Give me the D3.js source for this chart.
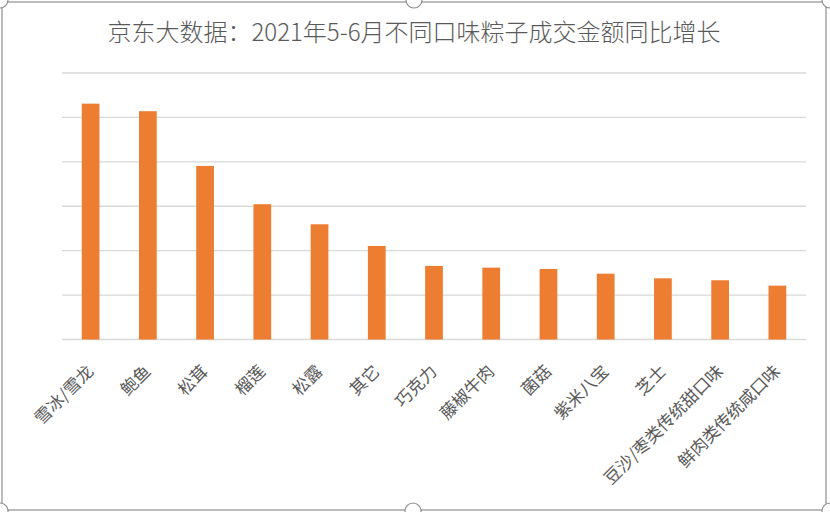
<!DOCTYPE html>
<html>
<head>
<meta charset="utf-8">
<script src="https://cdn.jsdelivr.net/npm/d3@7"></script>
<style>
  html, body { margin: 0; padding: 0; background: #fff; }
  svg { display: block; }
  text { font-family: "Noto Sans CJK SC", "Noto Sans", sans-serif; fill: #595959; }
</style>
</head>
<body>
<script>
;(function() {
  'use strict';

  var title = '京东大数据：2021年5-6月不同口味粽子成交金额同比增长';

  var categories = ['雪冰/雪龙', '鲍鱼', '松茸', '榴莲', '松露', '其它', '巧克力',
    '藤椒牛肉', '菌菇', '紫米八宝', '芝士', '豆沙/枣类传统甜口味', '鲜肉类传统咸口味'];

  // growth values (no y labels in the source)
  var values = [265.5, 257, 195.4, 152.3, 129.7, 105.3, 82.8, 80.9, 79.4, 74.1, 68.9, 66.7, 60.6];

  var yTicks = [0, 50, 100, 150, 200, 250, 300];

  var width = 830,
      height = 512,
      margin = { top: 73, right: 24, bottom: 172.5, left: 62 };

  var svg = d3.select('body')
    .append('svg')
    .attr('width', width)
    .attr('height', height);

  var x = d3.scaleBand()
    .domain(categories)
    .range([margin.left, width - margin.right])
    .paddingInner(0.69)
    .paddingOuter(0.345);

  var y = d3.scaleLinear()
    .domain([0, 300])
    .range([height - margin.bottom, margin.top]);

  /* ------- GRID ------- */
  svg.append('g')
    .attr('class', 'grid')
    .selectAll('line')
    .data(yTicks)
    .enter()
    .append('line')
    .attr('x1', margin.left)
    .attr('x2', width - margin.right)
    .attr('y1', function(d) { return y(d); })
    .attr('y2', function(d) { return y(d); })
    .attr('stroke', '#d9d9d9')
    .attr('stroke-width', 1.3);

  /* ------- BARS ------- */
  svg.append('g')
    .attr('class', 'bars')
    .selectAll('rect')
    .data(values)
    .enter()
    .append('rect')
    .attr('x', function(d, i) { return x(categories[i]); })
    .attr('width', x.bandwidth())
    .attr('y', function(d) { return y(d); })
    .attr('height', function(d) { return y(0) - y(d); })
    .attr('fill', '#ed7d31');

  /* ------- X LABELS ------- */
  svg.append('g')
    .attr('class', 'labels')
    .selectAll('text')
    .data(categories)
    .enter()
    .append('text')
    .attr('transform', function(d) {
      var cx = x(d) + x.bandwidth() / 2;
      return 'translate(' + (cx + 4) + ',' + (y(0) + 33) + ') rotate(-45)';
    })
    .attr('text-anchor', 'end')
    .style('font-size', '17px')
    .text(function(d) { return d; });

  /* ------- TITLE ------- */
  svg.append('text')
    .attr('x', 414)
    .attr('y', 41)
    .attr('text-anchor', 'middle')
    .style('font-size', '24px')
    .style('font-weight', 300)
    .text(title);

  /* ------- FRAME + HANDLES ------- */
  svg.append('rect')
    .attr('x', 2)
    .attr('y', 2)
    .attr('width', 824)
    .attr('height', 508)
    .attr('rx', 4)
    .attr('fill', 'none')
    .attr('stroke', '#a6a6a6')
    .attr('stroke-width', 1.5);

  var handles = [[0, 0], [414, 0], [830, 0], [0, 511], [413, 511], [830, 511]];
  svg.append('g')
    .attr('class', 'handles')
    .selectAll('circle')
    .data(handles)
    .enter()
    .append('circle')
    .attr('cx', function(d) { return d[0]; })
    .attr('cy', function(d) { return d[1]; })
    .attr('r', 8)
    .attr('fill', '#fff')
    .attr('stroke', '#8c8c8c')
    .attr('stroke-width', 1.2);
})();
</script>
</body>
</html>
